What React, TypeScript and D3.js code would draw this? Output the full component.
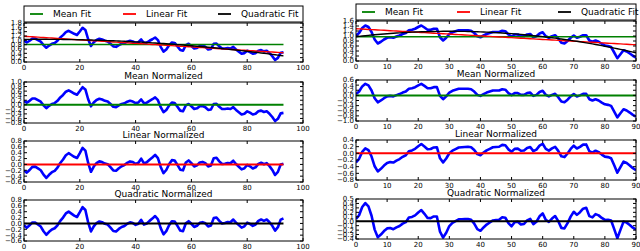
import * as d3 from "d3";

// raw series (x = 0, 1, 2, ...)
const leftValues = [
  0.98, 0.9, 0.98, 1.08, 1.08, 1.01, 0.94, 0.78, 0.66, 0.76,
  0.84, 0.88, 0.98, 1.13, 1.24, 1.38, 1.44, 1.37, 1.3, 1.25,
  1.41, 1.58, 1.48, 1.05, 0.74, 0.91, 1.02, 1.07, 1.04, 0.98,
  0.95, 0.84, 0.72, 0.7, 0.78, 0.84, 0.87, 0.94, 0.98, 0.95,
  0.88, 0.91, 1.04, 0.87, 0.9, 0.98, 1.05, 1.13, 1.01, 0.7,
  0.48, 0.58, 0.77, 0.9, 0.88, 0.72, 0.55, 0.52, 0.78, 0.84,
  0.74, 0.62, 0.65, 0.74, 0.75, 0.7, 0.58, 0.6, 0.84, 0.85,
  0.72, 0.62, 0.62, 0.64, 0.62, 0.7, 0.58, 0.48, 0.38, 0.41,
  0.52, 0.46, 0.38, 0.41, 0.52, 0.55, 0.49, 0.52, 0.41, 0.27,
  0.09, 0.19, 0.43, 0.45,
];
const rightValues = [
  1.02, 1.12, 1.32, 1.42, 1.36, 1.16, 0.86, 0.7, 0.77, 0.86,
  0.93, 0.95, 0.93, 0.98, 1.02, 1.08, 1.12, 1.23, 1.25, 1.29,
  1.36, 1.42, 1.34, 1.25, 1.25, 1.29, 1.29, 0.95, 0.82, 0.93,
  1.08, 1.15, 1.19, 1.23, 1.23, 1.23, 1.23, 1.21, 1.12, 0.99,
  0.95, 1.02, 1.08, 1.12, 1.16, 1.16, 1.16, 1.21, 1.19, 1.06,
  0.98, 1.06, 1.06, 0.99, 0.99, 1.06, 1.08, 0.95, 0.99, 1.1,
  1.15, 0.99, 0.93, 0.99, 1.03, 0.9, 0.73, 0.7, 0.8, 0.93,
  1.02, 0.93, 0.97, 1.03, 1.03, 0.82, 0.77, 0.82, 0.77, 0.69,
  0.62, 0.6, 0.56, 0.34, 0.11, 0.27, 0.43, 0.38, 0.3, 0.21,
  0.14,
];

const leftXTicks = [0, 20, 40, 60, 80, 100];
const rightXTicks = [0, 10, 20, 30, 40, 50, 60, 70, 80, 90];

const leftRawTicks = [0, 0.2, 0.4, 0.6, 0.8, 1.0, 1.2, 1.4, 1.6, 1.8];
const leftMeanTicks = [-0.8, -0.6, -0.4, -0.2, 0, 0.2, 0.4, 0.6, 0.8, 1.0];
const leftLinTicks = [-0.6, -0.4, -0.2, 0, 0.2, 0.4, 0.6, 0.8];
const leftQuadTicks = [-0.6, -0.4, -0.2, 0, 0.2, 0.4, 0.6, 0.8];

const rightRawTicks = [0, 0.2, 0.4, 0.6, 0.8, 1.0, 1.2, 1.4, 1.6];
const rightMeanTicks = [-1.0, -0.8, -0.6, -0.4, -0.2, 0, 0.2, 0.4, 0.6];
const rightLinTicks = [-0.8, -0.6, -0.4, -0.2, 0, 0.2, 0.4];
const rightQuadTicks = [-0.4, -0.3, -0.2, -0.1, 0, 0.1, 0.2, 0.3, 0.4, 0.5];

const fitNames = ["Mean Fit", "Linear Fit", "Quadratic Fit"];
const fitColors = ["#008000", "#ff0000", "#000000"];
const titles = ["Mean Normalized", "Linear Normalized", "Quadratic Normalized"];

// least squares polynomial fit, returns fitted values
function polyfit(ys: number[], deg: number) {
  const n = deg + 1;
  const A = d3.range(n).map(() => new Array(n + 1).fill(0));
  ys.forEach((y, x) => {
    for (let i = 0; i < n; i++) {
      for (let j = 0; j < n; j++) A[i][j] += Math.pow(x, i + j);
      A[i][n] += y * Math.pow(x, i);
    }
  });
  for (let c = 0; c < n; c++) {
    for (let r = c + 1; r < n; r++) {
      const f = A[r][c] / A[c][c];
      for (let k = c; k <= n; k++) A[r][k] -= f * A[c][k];
    }
  }
  const coef = new Array(n).fill(0);
  for (let r = n - 1; r >= 0; r--) {
    let s = A[r][n];
    for (let k = r + 1; k < n; k++) s -= A[r][k] * coef[k];
    coef[r] = s / A[r][r];
  }
  return ys.map((_, x) => coef.reduce((a, c, i) => a + c * Math.pow(x, i), 0));
}

const fmt = (v: number) => d3.format(".1f")(v);
const FONT = "DejaVu Sans, sans-serif";

type Line = { values: number[]; color: string; width: number };

function Panel(props: {
  id: string;
  x0: number; x1: number; y0: number; y1: number;
  xMax: number; xTicks: number[]; yTicks: number[];
  lines: Line[]; title?: string;
}) {
  const { id, x0, x1, y0, y1, xMax, xTicks, yTicks, lines, title } = props;
  const x = d3.scaleLinear().domain([0, xMax]).range([x0, x1]);
  const y = d3.scaleLinear().domain([yTicks[0], yTicks[yTicks.length - 1]]).range([y1, y0]);
  const path = (vals: number[]) =>
    d3.line<number>().x((_, i) => x(i)).y((d) => y(d))(vals) || "";
  const tl = 3;
  return (
    <g>
      <defs>
        <clipPath id={id}>
          <rect x={x0} y={y0} width={x1 - x0} height={y1 - y0} />
        </clipPath>
      </defs>
      {title && (
        <text x={(x0 + x1) / 2} y={y0 - 3} textAnchor="middle" fontSize={9} fontFamily={FONT}>
          {title}
        </text>
      )}
      <g clipPath={`url(#${id})`}>
        {lines.map((l, i) => (
          <path key={i} d={path(l.values)} fill="none" stroke={l.color} strokeWidth={l.width} strokeLinejoin="round" />
        ))}
      </g>
      <rect x={x0} y={y0} width={x1 - x0} height={y1 - y0} fill="none" stroke="#000" strokeWidth={1} />
      {xTicks.map((t) => (
        <g key={"x" + t}>
          <line x1={x(t)} x2={x(t)} y1={y1} y2={y1 - tl} stroke="#000" />
          <line x1={x(t)} x2={x(t)} y1={y0} y2={y0 + tl} stroke="#000" />
          <text x={x(t)} y={y1 + 8} textAnchor="middle" fontSize={7} fontFamily={FONT}>{t}</text>
        </g>
      ))}
      {yTicks.map((t) => (
        <g key={"y" + t}>
          <line x1={x0} x2={x0 + tl} y1={y(t)} y2={y(t)} stroke="#000" />
          <line x1={x1} x2={x1 - tl} y1={y(t)} y2={y(t)} stroke="#000" />
          <text x={x0 - 2} y={y(t)} dy="0.35em" textAnchor="end" fontSize={7} fontFamily={FONT}>{fmt(t)}</text>
        </g>
      ))}
    </g>
  );
}

function Column(props: {
  name: string; values: number[]; x0: number; x1: number; xMax: number;
  xTicks: number[]; yTicks: number[][]; bands: number[][]; legend: number[]; legendOffsets: number[];
}) {
  const { name, values, x0, x1, xMax, xTicks, yTicks, bands, legend, legendOffsets } = props;
  const fits = [0, 1, 2].map((d) => polyfit(values, d));
  const resid = fits.map((f) => values.map((v, i) => v - f[i]));
  const zero = values.map(() => 0);
  const ly = (legend[0] + legend[1]) / 2;
  return (
    <g>
      <rect x={x0} y={legend[0]} width={x1 - x0} height={legend[1] - legend[0]} fill="#fff" stroke="#000" />
      {fitNames.map((n, i) => (
        <g key={n}>
          <line x1={x0 + legendOffsets[i]} x2={x0 + legendOffsets[i] + 13} y1={ly} y2={ly} stroke={fitColors[i]} strokeWidth={1.8} />
          <text x={x0 + legendOffsets[i] + 23} y={ly + 3} fontSize={9} fontFamily={FONT}>{n}</text>
        </g>
      ))}
      <Panel id={name + "0"} x0={x0} x1={x1} y0={bands[0][0]} y1={bands[0][1]} xMax={xMax} xTicks={xTicks} yTicks={yTicks[0]}
        lines={[{ values, color: "#0000ff", width: 2.6 }, ...fits.map((f, i) => ({ values: f, color: fitColors[i], width: 1.4 }))]} />
      {resid.map((r, i) => (
        <Panel key={i} id={name + (i + 1)} x0={x0} x1={x1} y0={bands[i + 1][0]} y1={bands[i + 1][1]} xMax={xMax} xTicks={xTicks}
          yTicks={yTicks[i + 1]} title={titles[i]}
          lines={[{ values: r, color: "#0000ff", width: 2.6 }, { values: zero, color: fitColors[i], width: 2 }]} />
      ))}
    </g>
  );
}

export default function App() {
  return (
    <svg width={640} height={251} style={{ position: "absolute", left: 0, top: 0, background: "#fff" }}>
      <rect width={640} height={251} fill="#fff" />
      <Column name="L" values={leftValues} x0={24} x1={303} xMax={100} xTicks={leftXTicks}
        yTicks={[leftRawTicks, leftMeanTicks, leftLinTicks, leftQuadTicks]}
        bands={[[23, 62], [82, 123], [141, 182], [200, 241]]} legend={[6, 22]} legendOffsets={[6, 99, 194]} />
      <Column name="R" values={rightValues} x0={356} x1={636} xMax={90} xTicks={rightXTicks}
        yTicks={[rightRawTicks, rightMeanTicks, rightLinTicks, rightQuadTicks]}
        bands={[[21, 61], [80, 121], [140, 180], [199, 239]]} legend={[4, 20]} legendOffsets={[6, 101, 202]} />
    </svg>
  );
}
